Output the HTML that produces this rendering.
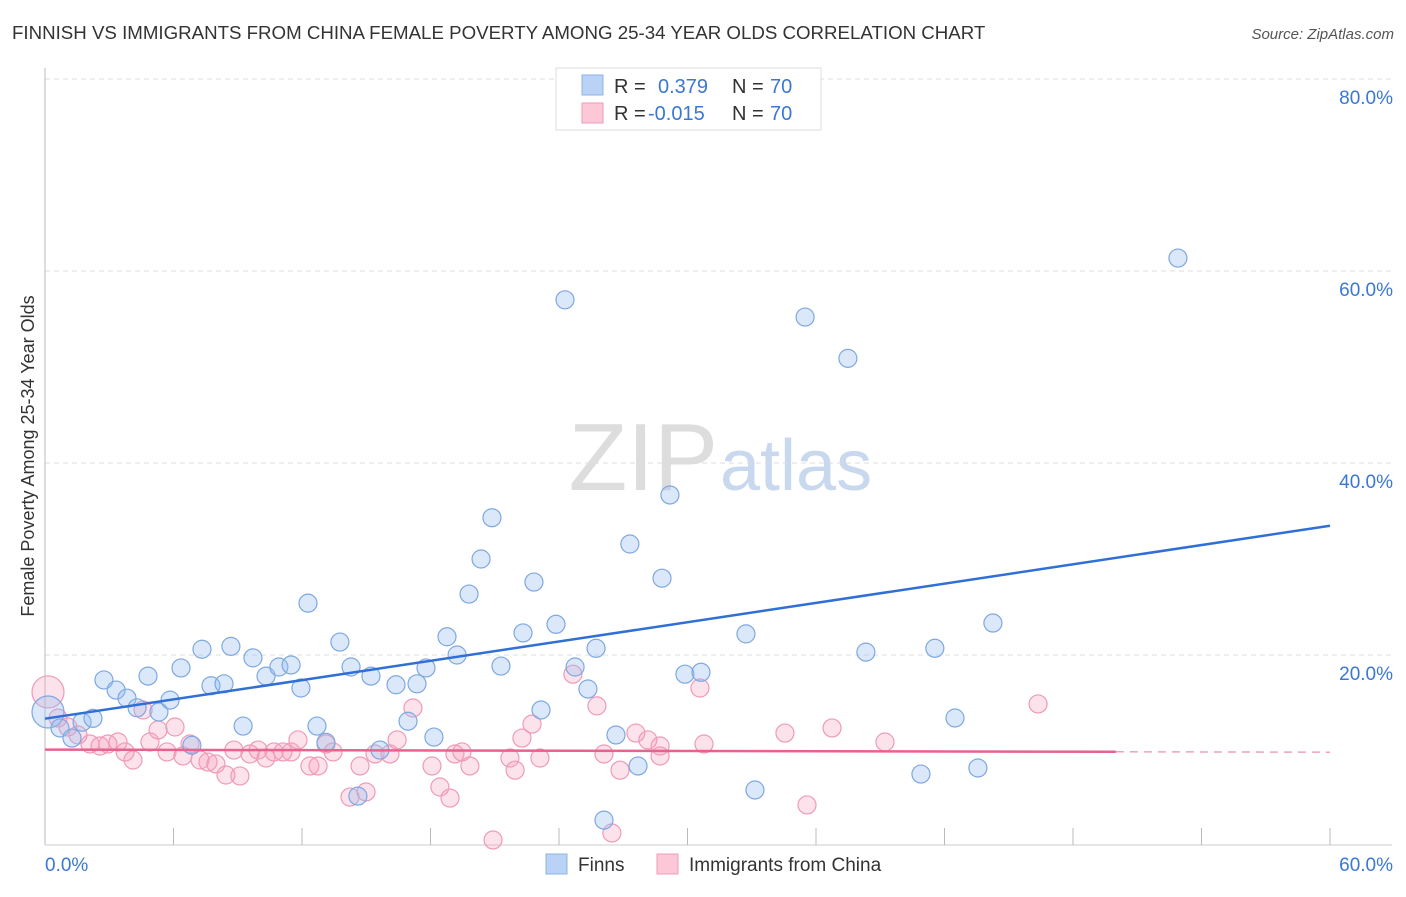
<!DOCTYPE html>
<html><head><meta charset="utf-8">
<style>
body{margin:0;background:#fff;font-family:"Liberation Sans",sans-serif;}
svg text{font-family:"Liberation Sans",sans-serif;}
</style></head>
<body>
<svg id="chart" width="1406" height="892" xmlns="http://www.w3.org/2000/svg">
<text x="12" y="39" font-size="18.7" fill="#333">FINNISH VS IMMIGRANTS FROM CHINA FEMALE POVERTY AMONG 25-34 YEAR OLDS CORRELATION CHART</text>
<text x="1394" y="39" font-size="15" fill="#555" text-anchor="end" font-style="italic">Source: ZipAtlas.com</text>
<text x="718" y="490" font-size="96" fill="#ddd" text-anchor="end" font-family="Liberation Serif">ZIP</text>
<text x="720" y="490" font-size="72" fill="#c8d8ee">atlas</text>
<text transform="translate(34,456) rotate(-90)" font-size="18" fill="#333" text-anchor="middle">Female Poverty Among 25-34 Year Olds</text>
<g id="grid"></g>
<g id="marks"></g>
<g id="lines"></g>
<g>
<rect x="556" y="68" width="265" height="62" fill="#fff" stroke="#ddd"/>
<rect x="582" y="75" width="21" height="20" fill="#b9d2f5" stroke="#8db4e6"/>
<text x="614" y="93" font-size="20" fill="#333">R =</text><text x="658" y="93" font-size="20" fill="#3a78d4">0.379</text>
<text x="732" y="93" font-size="20" fill="#333">N =</text><text x="770" y="93" font-size="20" fill="#3a78d4">70</text>
<rect x="582" y="103" width="21" height="20" fill="#fcc8d8" stroke="#ef9ab8"/>
<text x="614" y="120" font-size="20" fill="#333">R =</text><text x="648" y="120" font-size="20" fill="#3a78d4">-0.015</text>
<text x="732" y="120" font-size="20" fill="#333">N =</text><text x="770" y="120" font-size="20" fill="#3a78d4">70</text>
</g>
<g>
<rect x="546" y="854" width="21" height="20" fill="#b9d2f5" stroke="#8db4e6"/>
<text x="578" y="871" font-size="19" fill="#333">Finns</text>
<rect x="657" y="854" width="21" height="20" fill="#fcc8d8" stroke="#ef9ab8"/>
<text x="689" y="871" font-size="19" fill="#333">Immigrants from China</text>
</g>
</svg>
<script>
const xTicks=[0,6,12,18,24,30,36,42,48,54,60];
const yTicks=[20,40,60,80];
const finnsX=[0.14,0.70,1.26,1.73,2.24,2.75,3.32,3.83,4.30,4.81,5.32,5.84,6.35,6.86,7.33,7.75,8.36,8.68,9.25,9.71,10.32,10.92,11.49,11.95,12.28,12.70,13.12,13.77,14.29,15.22,14.61,15.64,16.39,16.95,17.37,17.79,18.16,18.77,19.24,19.80,20.36,20.87,21.29,22.32,22.83,23.16,23.86,24.28,24.75,25.35,25.73,26.10,26.66,27.31,27.69,28.81,29.18,29.88,30.63,32.73,33.15,35.49,37.49,38.33,40.90,41.55,42.49,43.56,44.26,52.90];
const finnsY=[14.06,12.4,11.35,13.0,13.4,17.4,16.35,15.5,14.5,17.8,14.06,15.3,18.65,10.6,20.6,16.8,17.0,20.9,12.6,19.7,17.8,18.75,18.96,16.56,25.4,12.6,10.9,21.35,18.75,17.8,5.3,10.1,16.9,13.1,17.0,18.65,11.45,21.9,20.0,26.35,30.0,34.3,18.85,22.3,27.6,14.27,23.2,57.0,18.75,16.46,20.7,2.8,11.67,31.56,8.44,28.0,36.67,18.0,18.2,22.2,5.94,55.2,50.9,20.3,7.6,20.7,13.44,8.23,23.33,61.35];
const chinaX=[0.14,0.61,1.07,1.54,2.10,2.57,2.94,3.41,3.74,4.11,4.58,4.90,5.28,5.70,6.07,6.44,6.77,7.24,7.61,7.98,8.45,8.82,9.10,9.57,9.95,10.32,10.69,11.11,11.49,11.81,12.37,12.75,13.12,13.45,14.24,14.71,14.99,15.41,16.11,16.44,17.18,18.07,18.44,18.91,19.14,19.47,19.84,20.92,21.71,21.95,22.27,22.74,23.11,24.65,25.77,26.10,26.47,26.85,27.59,28.15,28.72,28.72,30.58,30.77,34.55,35.58,36.75,39.22,46.37];
const chinaY=[16.15,13.44,12.5,11.67,10.73,10.52,10.73,10.94,9.9,9.06,14.27,10.94,12.19,9.9,12.5,9.48,10.73,9.06,8.85,8.65,7.5,10.1,7.4,9.69,10.1,9.27,9.9,9.9,9.9,11.15,8.44,8.44,10.73,9.9,5.2,8.44,5.73,9.69,9.69,11.15,14.48,8.44,6.25,5.1,9.69,9.9,8.44,0.73,9.27,8.0,11.35,12.8,9.27,18.0,14.7,9.69,1.46,8.0,11.87,11.15,10.52,9.48,16.56,10.73,11.87,4.38,12.4,10.94,14.9];
const NS="http://www.w3.org/2000/svg";
const X=v=>45+v*1285/60, Y=v=>847-v*9.6;
function mk(t,a,p){const e=document.createElementNS(NS,t);for(const k in a)e.setAttribute(k,a[k]);p.appendChild(e);return e;}
const grid=document.getElementById('grid'),marks=document.getElementById('marks'),lines=document.getElementById('lines');
yTicks.forEach(t=>{
 const l=mk('line',{x1:45,x2:1392,y1:Y(t),y2:Y(t),stroke:'#ddd','stroke-dasharray':'5,4'},grid);
 
 
 const tx=mk('text',{x:1393,y:Y(t)+25,'font-size':19,fill:'#3a78d4','text-anchor':'end'},grid);tx.textContent=t.toFixed(1)+'%';
 
 
});
mk('line',{x1:45,x2:45,y1:68,y2:845,stroke:'#bbb'},grid);
mk('line',{x1:45,x2:1392,y1:845,y2:845,stroke:'#ccc'},grid);
xTicks.forEach(t=>{
 if(t>0){const l=mk('line',{x1:X(t),x2:X(t),y1:828,y2:845,stroke:'#bbb'},grid);
 
 }
});
[[0,'start',45],[60,'end',1393]].forEach(([v,a,x])=>{const tx=mk('text',{x:x,y:871,'font-size':19,fill:'#3a78d4','text-anchor':a},grid);tx.textContent=v.toFixed(1)+'%';
 
 });
function pts(xs,ys,fill,stroke,name){xs.forEach((x,i)=>{const c=mk('circle',{cx:X(x),cy:Y(ys[i]),r:i===0?16:9,fill:fill,stroke:stroke,'stroke-width':1.2},marks);
 
 });}
pts(chinaX,chinaY,'rgba(245,160,190,0.3)','#ef9ab8','china-point');
pts(finnsX,finnsY,'rgba(150,190,240,0.35)','#7ea8e0','finns-point');
function fit(xs,ys){const n=xs.length;let mx=0,my=0;xs.forEach((x,i)=>{mx+=x;my+=ys[i];});mx/=n;my/=n;let sxy=0,sxx=0;xs.forEach((x,i)=>{sxy+=(x-mx)*(ys[i]-my);sxx+=(x-mx)*(x-mx);});const b=sxy/sxx;return[my-b*mx,b];}
const [fa,fb]=fit(finnsX,finnsY);
const bl=mk('line',{x1:X(0),y1:Y(fa),x2:X(60),y2:Y(fa+fb*60),stroke:'#2f6fd6','stroke-width':2.5},lines);


const [ca,cb]=fit(chinaX,chinaY);
const pl=mk('line',{x1:X(0),y1:Y(ca),x2:X(50),y2:Y(ca+cb*50),stroke:'#e8628e','stroke-width':2.5},lines);


const pd=mk('line',{x1:X(50),y1:Y(ca+cb*50),x2:X(60),y2:Y(ca+cb*60),stroke:'#f0a0bb','stroke-width':1.5,'stroke-dasharray':'8,6'},lines);


</script>
</body></html>
